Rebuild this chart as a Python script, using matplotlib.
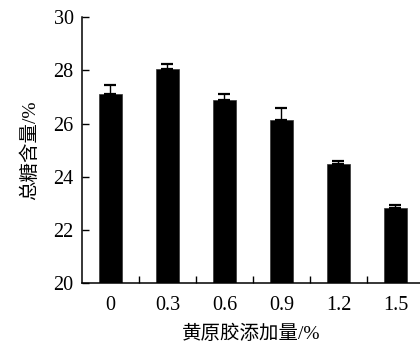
import matplotlib
matplotlib.use('Agg')
import matplotlib.pyplot as plt
import numpy as np

# xanthan gum dosage vs total sugar content
dosage = ['0', '0.3', '0.6', '0.9', '1.2', '1.5']
total_sugar = [27.12, 28.06, 26.87, 26.15, 24.49, 22.84]
sugar_err = [0.32, 0.19, 0.24, 0.43, 0.11, 0.11]
y_ticks = [20, 22, 24, 26, 28, 30]

plt.rcParams['font.family'] = ['Liberation Serif', 'Noto Sans CJK SC']
plt.rcParams['axes.unicode_minus'] = False

fig = plt.figure(figsize=(4.2, 3.49), dpi=100)
ax = fig.add_axes([0.195, 0.188, 0.805, 0.763])

x = np.arange(len(dosage))
ax.bar(x, total_sugar, width=0.39, color='black', edgecolor='#333333',
       linewidth=0.5, zorder=2)
ax.errorbar(x, total_sugar, yerr=[np.zeros(len(sugar_err)), sugar_err],
            fmt='none', ecolor='black', elinewidth=1.0, capsize=4.6,
            capthick=1.6, zorder=3)

ax.set_ylim(20, 30)
ax.set_xlim(-0.5, 5.43)
ax.set_yticks(y_ticks)
ax.set_yticklabels([str(v) for v in y_ticks], fontsize=14.5)

# category labels under the bars, tick marks only between them
ax.set_xticks(x)
ax.set_xticklabels(dosage, fontsize=14.5)
ax.tick_params(axis='x', which='major', length=0, pad=9)
ax.set_xticks(x[:-1] + 0.5, minor=True)
ax.tick_params(axis='x', which='minor', direction='in', length=5, width=1.0)
ax.tick_params(axis='y', direction='in', length=5, width=1.0, pad=6)

for side in ['top', 'right']:
    ax.spines[side].set_visible(False)
for side in ['left', 'bottom']:
    ax.spines[side].set_linewidth(1.1)

ax.set_xlabel('黄原胶添加量/%', fontsize=14, labelpad=7)
ax.set_ylabel('总糖含量/%', fontsize=14, labelpad=10)

fig.savefig('out.png', dpi=100)
